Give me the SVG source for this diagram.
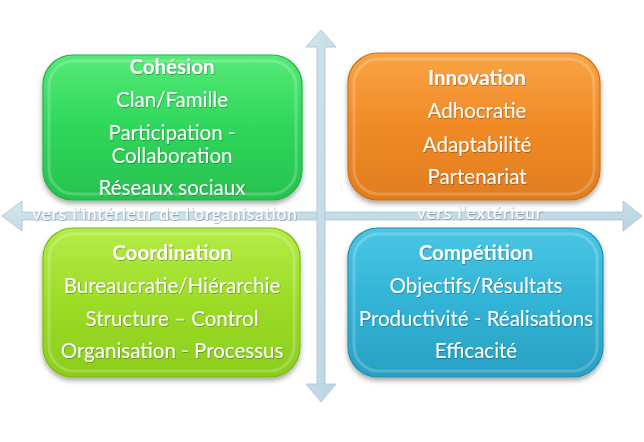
<svg xmlns="http://www.w3.org/2000/svg" width="644" height="442" viewBox="0 0 644 442">
<style>
  text { font-family: Lato, "Open Sans", "Liberation Sans", sans-serif; fill: #ffffff; text-anchor: middle; }
  .t { font-size: 20.5px; }
  .h { font-size: 20.5px; font-weight: bold; }
  .ax { font-size: 17px; letter-spacing: 1px; }
  .box { stroke-width: 1.2; }
  .axis { fill: url(#gAxis); stroke: #a8c3d1; stroke-width: 0.8; }
  .gloss { fill: none; stroke: #ffffff; stroke-opacity: 0.2; stroke-width: 3; }
</style>
<defs>
  <linearGradient id="gGreen" x1="0" y1="0" x2="0" y2="1">
    <stop offset="0" stop-color="#55ea78"/>
    <stop offset="0.5" stop-color="#2ed75a"/>
    <stop offset="1" stop-color="#27c24f"/>
  </linearGradient>
  <linearGradient id="gOrange" x1="0" y1="0" x2="0" y2="1">
    <stop offset="0" stop-color="#f9a445"/>
    <stop offset="0.5" stop-color="#f08a26"/>
    <stop offset="1" stop-color="#e07d1f"/>
  </linearGradient>
  <linearGradient id="gLime" x1="0" y1="0" x2="0" y2="1">
    <stop offset="0" stop-color="#b4ec46"/>
    <stop offset="0.5" stop-color="#9cdc26"/>
    <stop offset="1" stop-color="#8ccc1e"/>
  </linearGradient>
  <linearGradient id="gBlue" x1="0" y1="0" x2="0" y2="1">
    <stop offset="0" stop-color="#4ac6e4"/>
    <stop offset="0.5" stop-color="#31b3d6"/>
    <stop offset="1" stop-color="#2aa0c2"/>
  </linearGradient>
  <linearGradient id="gAxis" x1="0" y1="0" x2="1" y2="1">
    <stop offset="0" stop-color="#d2e6ee"/>
    <stop offset="1" stop-color="#b9d3df"/>
  </linearGradient>
  <filter id="sh" x="-10%" y="-10%" width="120%" height="130%">
    <feDropShadow dx="0" dy="3" stdDeviation="2.5" flood-color="#000000" flood-opacity="0.35"/>
  </filter>
  <filter id="ts" x="-5%" y="-20%" width="110%" height="150%">
    <feDropShadow dx="0.6" dy="0.8" stdDeviation="0.6" flood-color="#000000" flood-opacity="0.35"/>
  </filter>
</defs>
<rect width="644" height="442" fill="#ffffff"/>

<g id="connectors">
  <polygon id="axis-h" class="axis" points="2,216 22,201 22,212 623,212 623,201 642,216 623,231 623,220 22,220 22,231"/>
  <polygon id="axis-v" class="axis" points="321,30 336,47 325,47 325,384 336,384 321,402 306,384 317,384 317,47 306,47"/>
  <text class="ax" x="165" y="220" filter="url(#ts)">vers l'intérieur de l'organisation</text>
  <text class="ax" x="480" y="219" filter="url(#ts)">vers l'extérieur</text>
</g>

<g id="cohesion">
  <rect class="box" x="43" y="55" width="259" height="145" rx="30" fill="url(#gGreen)" stroke="#25b04a" filter="url(#sh)"/>
  <rect class="gloss" x="49" y="61" width="247" height="133" rx="25"/>
  <g filter="url(#ts)">
    <text class="h" x="172" y="74">Cohésion</text>
    <text class="t" x="172" y="107">Clan/Famille</text>
    <text class="t" x="172" y="140">Participation -</text>
    <text class="t" x="172" y="163">Collaboration</text>
    <text class="t" x="172" y="195">Réseaux sociaux</text>
  </g>
</g>

<g id="innovation">
  <rect class="box" x="348" y="53" width="252" height="147" rx="30" fill="url(#gOrange)" stroke="#cf6f15" filter="url(#sh)"/>
  <rect class="gloss" x="354" y="59" width="240" height="135" rx="25"/>
  <g filter="url(#ts)">
    <text class="h" x="477" y="85">Innovation</text>
    <text class="t" x="477" y="118">Adhocratie</text>
    <text class="t" x="477" y="152">Adaptabilité</text>
    <text class="t" x="477" y="184">Partenariat</text>
  </g>
</g>

<g id="coordination">
  <rect class="box" x="43" y="228" width="257" height="149" rx="30" fill="url(#gLime)" stroke="#7fba18" filter="url(#sh)"/>
  <rect class="gloss" x="49" y="234" width="245" height="137" rx="25"/>
  <g filter="url(#ts)">
    <text class="h" x="172" y="260">Coordination</text>
    <text class="t" x="172" y="293">Bureaucratie/Hiérarchie</text>
    <text class="t" x="172" y="326">Structure – Control</text>
    <text class="t" x="172" y="358">Organisation - Processus</text>
  </g>
</g>

<g id="competition">
  <rect class="box" x="348" y="228" width="255" height="149" rx="30" fill="url(#gBlue)" stroke="#2490b0" filter="url(#sh)"/>
  <rect class="gloss" x="354" y="234" width="243" height="137" rx="25"/>
  <g filter="url(#ts)">
    <text class="h" x="476" y="260">Compétition</text>
    <text class="t" x="476" y="293">Objectifs/Résultats</text>
    <text class="t" x="476" y="326">Productivité - Réalisations</text>
    <text class="t" x="476" y="358">Efficacité</text>
  </g>
</g>
</svg>
